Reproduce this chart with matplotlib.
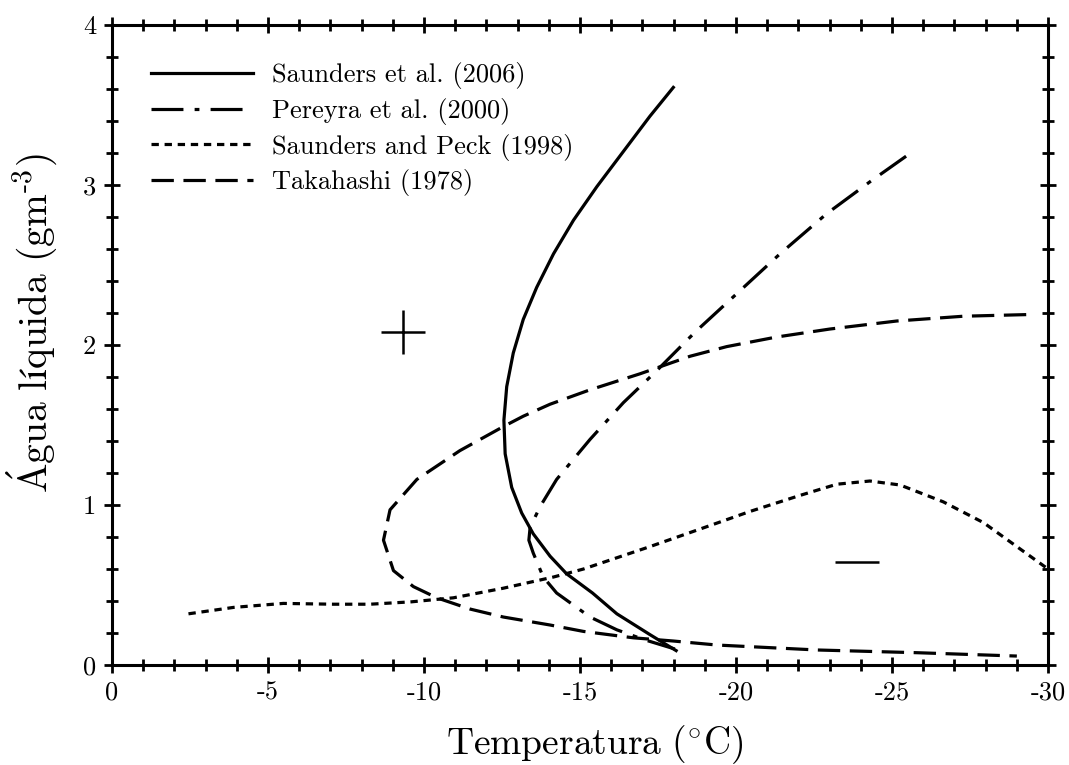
import matplotlib
matplotlib.use("Agg")
import matplotlib.pyplot as plt
from matplotlib.ticker import MultipleLocator

plt.rcParams["font.family"] = "cmr10"
plt.rcParams["mathtext.fontset"] = "cm"
plt.rcParams["axes.unicode_minus"] = False

# Saunders et al. (2006)
saunders06_t = [-17.99, -17.24, -16.39, -15.54, -14.79, -14.15, -13.61, -13.18, -12.86, -12.65,
                -12.56, -12.60, -12.81, -13.13, -13.50, -14.04, -14.57, -15.40, -16.18, -17.24, -18.08]
saunders06_w = [3.61, 3.43, 3.21, 2.99, 2.78, 2.57, 2.36, 2.16, 1.95, 1.74,
                1.53, 1.32, 1.11, 0.95, 0.82, 0.68, 0.57, 0.45, 0.32, 0.19, 0.09]

# Pereyra et al. (2000)
pereyra_t = [-25.45, -24.29, -22.90, -21.41, -20.13, -18.85, -18.53, -17.46, -16.39, -15.32,
             -14.25, -13.72, -13.40, -13.36, -13.50, -13.82, -14.25, -15.32, -16.18, -17.03, -18.04]
pereyra_w = [3.18, 3.02, 2.82, 2.57, 2.34, 2.11, 2.05, 1.84, 1.64, 1.41,
             1.16, 0.99, 0.86, 0.78, 0.70, 0.55, 0.45, 0.30, 0.22, 0.16, 0.10]

# Saunders and Peck (1998)
peck_t = [-2.45, -3.89, -5.49, -7.09, -8.27, -9.60, -10.94, -12.54, -14.15, -15.11, -17.24,
          -18.85, -20.45, -22.05, -23.23, -24.29, -25.26, -26.64, -27.93, -29.00, -30.00]
peck_w = [0.32, 0.36, 0.385, 0.38, 0.38, 0.395, 0.42, 0.48, 0.55, 0.60, 0.74,
          0.85, 0.96, 1.06, 1.13, 1.15, 1.125, 1.02, 0.89, 0.74, 0.60]

# Takahashi (1978)
taka_t = [-29.30, -27.29, -25.15, -23.01, -21.30, -19.70, -18.53, -16.92, -15.32, -14.04,
          -13.18, -12.54, -11.15, -9.77, -8.91, -8.70, -9.02, -9.66, -10.41, -11.47,
          -12.54, -14.04, -15.11, -16.71, -17.99, -19.38, -22.59, -25.79, -29.00]
taka_w = [2.19, 2.18, 2.15, 2.10, 2.05, 1.99, 1.93, 1.82, 1.72, 1.63,
          1.555, 1.49, 1.34, 1.16, 0.97, 0.78, 0.59, 0.49, 0.42, 0.35,
          0.30, 0.25, 0.21, 0.17, 0.15, 0.125, 0.094, 0.077, 0.056]

xticks = [0, -5, -10, -15, -20, -25, -30]
yticks = [0, 1, 2, 3, 4]

fig = plt.figure(figsize=(10.69, 7.65), dpi=100)
ax = fig.add_axes([0.1048, 0.1307, 0.8756, 0.8366])

lw = 2.3
ax.plot(saunders06_t, saunders06_w, color="black", lw=lw, linestyle="-",
        label="Saunders et al. (2006)")
ax.plot(pereyra_t, pereyra_w, color="black", lw=lw, linestyle=(0, (10, 3.5, 1.5, 3.5)),
        label="Pereyra et al. (2000)")
ax.plot(peck_t, peck_w, color="black", lw=lw, linestyle=(0, (2.3, 1.8)),
        label="Saunders and Peck (1998)")
ax.plot(taka_t, taka_w, color="black", lw=lw, linestyle=(0, (7, 3)),
        label="Takahashi (1978)")

# charge sign markers
ax.plot([-9.32], [2.08], marker="+", markersize=32, markeredgewidth=1.8, color="black")
ax.plot([-23.88], [0.645], marker="_", markersize=32, markeredgewidth=1.8, color="black")

ax.set_xlim(0, -30)
ax.set_ylim(0, 4)
ax.set_xticks(xticks)
ax.set_xticklabels([str(v) for v in xticks])
ax.set_yticks(yticks)
ax.set_yticklabels([str(v) for v in yticks])
ax.xaxis.set_minor_locator(MultipleLocator(1))
ax.yaxis.set_minor_locator(MultipleLocator(0.2))
ax.tick_params(which="both", direction="inout", top=True, right=True, width=2.0,
               labelsize=19, pad=6)
ax.tick_params(which="major", length=11)
ax.tick_params(which="minor", length=9)
for s in ax.spines.values():
    s.set_linewidth(2.2)

ax.set_xlabel(r"$\mathrm{Temperatura\ (^{\circ}C)}$", fontsize=27, labelpad=13, x=0.5155)
ax.set_ylabel(r"$\mathrm{\acute{A}gua\ líquida\ (gm^{\text{-}3})}$", fontsize=28.4,
              labelpad=17, y=0.534)

ax.legend(loc="upper left", bbox_to_anchor=(0.042, 0.942), frameon=False, fontsize=19,
          handlelength=3.86, handletextpad=0.72, labelspacing=0.33, borderpad=0,
          borderaxespad=0)

fig.savefig("out.png", dpi=100)
